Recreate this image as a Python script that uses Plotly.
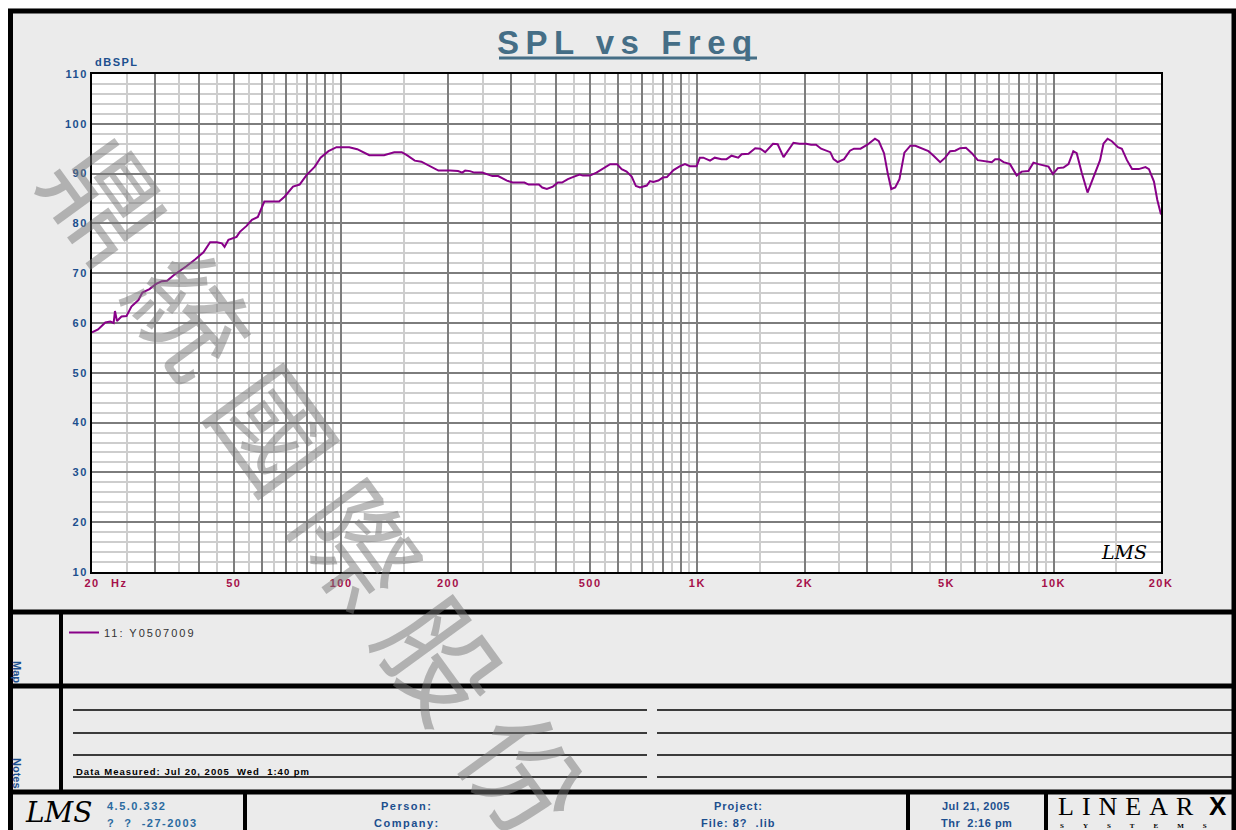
import plotly.graph_objects as go

# ---------------- data ----------------
freq_hz = [20, 20.8, 21.8, 22.5, 23.0, 23.2, 23.5, 24.2, 25.0, 25.8, 27.0, 27.7, 29.0, 30.2, 31.4,
           32.5, 33.9, 35.3, 36.8, 39.0, 41.1, 42.9, 44.8, 46.3, 47.1, 48.3, 50.9, 52.0, 54.3, 56.2,
           58.4, 60.9, 64.3, 67.0, 69.5, 73.3, 76.5, 80.0, 84.4, 87.6, 92.2, 97.1, 105.4, 111, 120,
           128.8, 132, 141, 148, 153, 161, 168, 175.6, 187.6, 202, 213, 218.7, 223, 230, 236.6, 249,
           266, 276, 292, 303, 327, 336, 359, 367, 378, 393, 406, 417, 433, 447, 467, 477, 499, 521,
           542, 569, 595, 613, 633, 654, 672, 690, 721, 736, 752, 777, 800, 821, 857, 894, 923, 953,
           995, 1016, 1039, 1085, 1119, 1169, 1207, 1247, 1302, 1331, 1391, 1453,
           1501, 1550, 1630, 1680, 1745, 1860, 1934, 2020, 2085, 2153, 2224, 2360, 2410, 2475, 2580,
           2680, 2750, 2870, 3000, 3150, 3230, 3340, 3420, 3500, 3590, 3690, 3810, 3960, 4090, 4260,
           4450, 4600, 4800, 4960, 5120, 5290, 5460, 5670, 5890, 6120, 6340, 6700, 6850, 7030, 7230,
           7540, 7870, 8130, 8490, 8770, 9060, 9460, 9670, 9950, 10270, 10650, 11000, 11350, 11600,
           11990, 12440, 13060, 13490, 13790, 14160, 14560, 15140, 15530, 16050, 16590, 17320, 18090,
           18500, 19110, 19530, 20000]
spl_db = [58.1, 58.7, 60.1, 60.3, 60.0, 62.4, 60.4, 61.3, 61.4, 63.3, 64.6, 66.1, 66.8, 67.8, 68.4,
          68.5, 69.6, 70.4, 71.4, 72.8, 74.2, 76.2, 76.2, 76.0, 75.3, 76.7, 77.3, 78.3, 79.5, 80.7,
          81.3, 84.4, 84.4, 84.4, 85.4, 87.4, 87.8, 89.7, 91.4, 93.2, 94.5, 95.3, 95.3, 94.9, 93.7,
          93.7, 93.7, 94.3, 94.3, 93.7, 92.6, 92.4, 91.7, 90.6, 90.6, 90.5, 90.2, 90.6, 90.5, 90.2, 90.2,
          89.5, 89.5, 88.6, 88.2, 88.2, 87.8, 87.8, 87.2, 86.9, 87.4, 88.2, 88.2, 88.9, 89.3, 89.8, 89.6, 89.6, 90.2,
          91.0, 91.9, 91.9, 90.9, 90.4, 89.4, 87.5, 87.2, 87.6, 88.5, 88.3, 88.6, 89.2, 89.3, 90.7, 91.5, 91.9, 91.5,
          91.5, 93.2, 93.2, 92.6, 93.2, 92.9, 92.9, 93.6, 93.2, 93.9, 94.0, 95.1,
          95.0, 94.3, 96.0, 95.9, 93.3, 96.2, 96.0, 96.0, 95.8, 95.8, 95.0, 94.3, 92.9, 92.3, 92.9,
          94.6, 95.0, 95.0, 95.8, 97.0, 96.5, 94.1, 90.1, 86.9, 87.2, 88.9, 94.2, 95.6, 95.6, 95.0,
          94.5, 93.6, 92.3, 93.2, 94.5, 94.6, 95.1, 95.2, 94.1, 92.7, 92.6, 92.3, 92.9, 92.9, 92.3,
          91.9, 89.6, 90.4, 90.5, 92.2, 91.9, 91.5, 91.4, 89.9, 91.1, 91.2, 91.9, 94.5, 94.1,
          90.1, 86.2, 90.1, 92.7, 96.0, 97.0, 96.5, 95.3, 95.0, 92.7, 90.9, 90.9, 91.3,
          90.9, 88.4, 84.7, 81.8]
series_name = "11: Y0507009"

x_major = [20, 30, 40, 50, 60, 70, 80, 90, 100, 200, 300, 400, 500, 600, 700, 800, 900,
           1000, 2000, 3000, 4000, 5000, 6000, 7000, 8000, 9000, 10000, 20000]
x_minor = [25, 35, 45, 55, 65, 75, 85, 95, 150, 250, 350, 450, 550, 650, 750, 850, 950,
           1500, 2500, 3500, 4500, 5500, 6500, 7500, 8500, 9500, 15000]
x_labels = {20: "20", 50: "50", 100: "100", 200: "200", 500: "500", 1000: "1K",
            2000: "2K", 5000: "5K", 10000: "10K", 20000: "20K"}
y_ticks = [10, 20, 30, 40, 50, 60, 70, 80, 90, 100, 110]

# ---------------- geometry helpers (page pixels -> paper) ----------------
FIG_W, FIG_H = 1236, 830
L, R, T, B = 92, 1161, 74, 572   # plot area in page pixels
W, H = R - L, B - T
def px(x):
    return (x - L) / W
def py(y):
    return (B - y) / H

FONT = "Liberation Sans, Arial, sans-serif"
BLUE = "#1c4f8e"
RED = "#a5104a"

def sp(t, s):
    return f'<span style="letter-spacing:{s}px">{t}</span>'

fig = go.Figure()
fig.add_trace(go.Scatter(x=freq_hz, y=spl_db, mode="lines", name=sp(series_name, 2),
                         line=dict(color="#880088", width=2), showlegend=True))

fig.update_layout(
    width=FIG_W, height=FIG_H,
    margin=dict(l=L, r=FIG_W - R, t=T, b=FIG_H - B, pad=0),
    paper_bgcolor="#ebebeb", plot_bgcolor="white",
    font=dict(family=FONT),
    showlegend=True,
    legend=dict(x=px(64), y=py(618), xanchor="left", yanchor="top", bgcolor="rgba(0,0,0,0)",
                font=dict(size=11, color="#333333", family=FONT)),
    xaxis=dict(type="log", range=[1.30103, 4.30103], tickmode="array", tickvals=x_major,
               ticktext=[sp(x_labels.get(v, ""), 1.5) for v in x_major],
               tickfont=dict(size=11, color=RED, family=FONT, weight="bold"), ticks="",
               showgrid=True, gridcolor="#7d7d7d", gridwidth=2,
               minor=dict(tickmode="array", tickvals=x_minor, showgrid=True, gridcolor="#cdcdcd", gridwidth=1.5, ticks=""),
               showline=True, linecolor="black", linewidth=2, mirror=True, zeroline=False, fixedrange=True),
    yaxis=dict(range=[10, 110], tickmode="array", tickvals=y_ticks,
               ticktext=[sp(str(v), 1.5) for v in y_ticks],
               tickfont=dict(size=11, color=BLUE, family=FONT, weight="bold"), ticks="",
               showgrid=True, gridcolor="#7d7d7d", gridwidth=2,
               minor=dict(dtick=2, showgrid=True, gridcolor="#cdcdcd", gridwidth=1.5, ticks=""),
               showline=True, linecolor="black", linewidth=2, mirror=True, zeroline=False, fixedrange=True),
)

shapes = []
def line(x0, y0, x1, y1, w, c="black"):
    shapes.append(dict(type="line", xref="paper", yref="paper", x0=px(x0), y0=py(y0), x1=px(x1), y1=py(y1),
                       line=dict(color=c, width=w), layer="above"))

# white margin outside the page frame
shapes.append(dict(type="rect", xref="paper", yref="paper", x0=px(-5), x1=px(1240), y0=py(-5), y1=py(8.5),
                   fillcolor="white", line=dict(width=0), layer="below"))
shapes.append(dict(type="rect", xref="paper", yref="paper", x0=px(-5), x1=px(8), y0=py(-5), y1=py(840),
                   fillcolor="white", line=dict(width=0), layer="below"))
# page frame
shapes.append(dict(type="rect", xref="paper", yref="paper", x0=px(10.5), x1=px(1234), y0=py(11), y1=py(845),
                   line=dict(color="black", width=5), layer="above"))
# section dividers
line(10, 612, 1234, 612, 5)
line(10, 686, 1234, 686, 5)
line(10, 792, 1234, 792, 5)
line(61, 612, 61, 792, 4)
for xx in (245, 908, 1046):
    line(xx, 792, xx, 835, 4)
# notes lines
for yy in (710, 733, 755, 777):
    line(73, yy, 647, yy, 1.5)
    line(657, yy, 1233, yy, 1.5)
# title underline
line(499, 58, 757, 58, 3, "#456e86")
fig.update_layout(shapes=shapes)

ann = []
def text(x, y, t, size=11, color=BLUE, anchor="center", bold=True, angle=0, family=FONT, italic=False):
    ann.append(dict(x=px(x), y=py(y), xref="paper", yref="paper", text=t, showarrow=False,
                    xanchor=anchor, yanchor="middle", textangle=angle,
                    font=dict(size=size, color=color, family=family, weight="bold" if bold else "normal",
                              style="italic" if italic else "normal")))

# watermark
ann.append(dict(x=px(328), y=py(494), xref="paper", yref="paper", text=sp("鼎統國際股份", 26), showarrow=False,
                xanchor="center", yanchor="middle", textangle=54,
                font=dict(size=116, color="rgba(120,120,120,0.5)", family="Noto Sans CJK TC")))
text(628, 42, sp("SPL vs Freq", 6.5), size=33, color="#456e86")
text(93, 62, sp("dBSPL", 1.5), size=11, anchor="left")
text(109, 583, sp("Hz", 1.5), size=11, color=RED, anchor="left")
text(1124, 552, "LMS", size=19, color="black", bold=False, italic=True, family="DejaVu Serif")
text(17, 672, "Map", size=11, angle=90)
text(17, 773, "Notes", size=11, angle=90)
text(74, 771, sp("Data Measured: Jul 20, 2005\u00a0 Wed\u00a0 1:40 pm", 1), size=9.5, color="black", anchor="left")
text(58, 812, "LMS", size=28, color="black", bold=False, italic=True, family="DejaVu Serif")
text(105, 806, sp("4.5.0.332", 1.5), size=11, color="#2a6aa0", anchor="left")
text(105, 823, sp("?\u00a0 ?\u00a0 -27-2003", 1.5), size=11, color="#2a6aa0", anchor="left")
text(407, 806, sp("Person:", 1.5), size=11)
text(407, 823, sp("Company:", 1.5), size=11)
text(738, 806, sp("Project:", 1), size=11)
text(738, 823, sp("File: 8?\u00a0 .lib", 1), size=11)
text(976, 806, sp("Jul 21, 2005", 0.5), size=11)
text(976, 823, sp("Thr\u00a0 2:16 pm", 0.5), size=11)
text(1056, 806, sp("LINEAR", 8), size=26, color="black", bold=False, anchor="left", family="Liberation Serif")
text(1218, 806, "X", size=26, color="black", anchor="center", family="Liberation Sans")
text(1058, 826, sp("SYSTEMS", 19), size=7, color="black", anchor="left", family="Liberation Serif")
fig.update_layout(annotations=ann)

fig.write_html("out.html", config={"displayModeBar": False},
               post_script="document.body.style.margin='0';document.body.style.overflow='hidden';")
